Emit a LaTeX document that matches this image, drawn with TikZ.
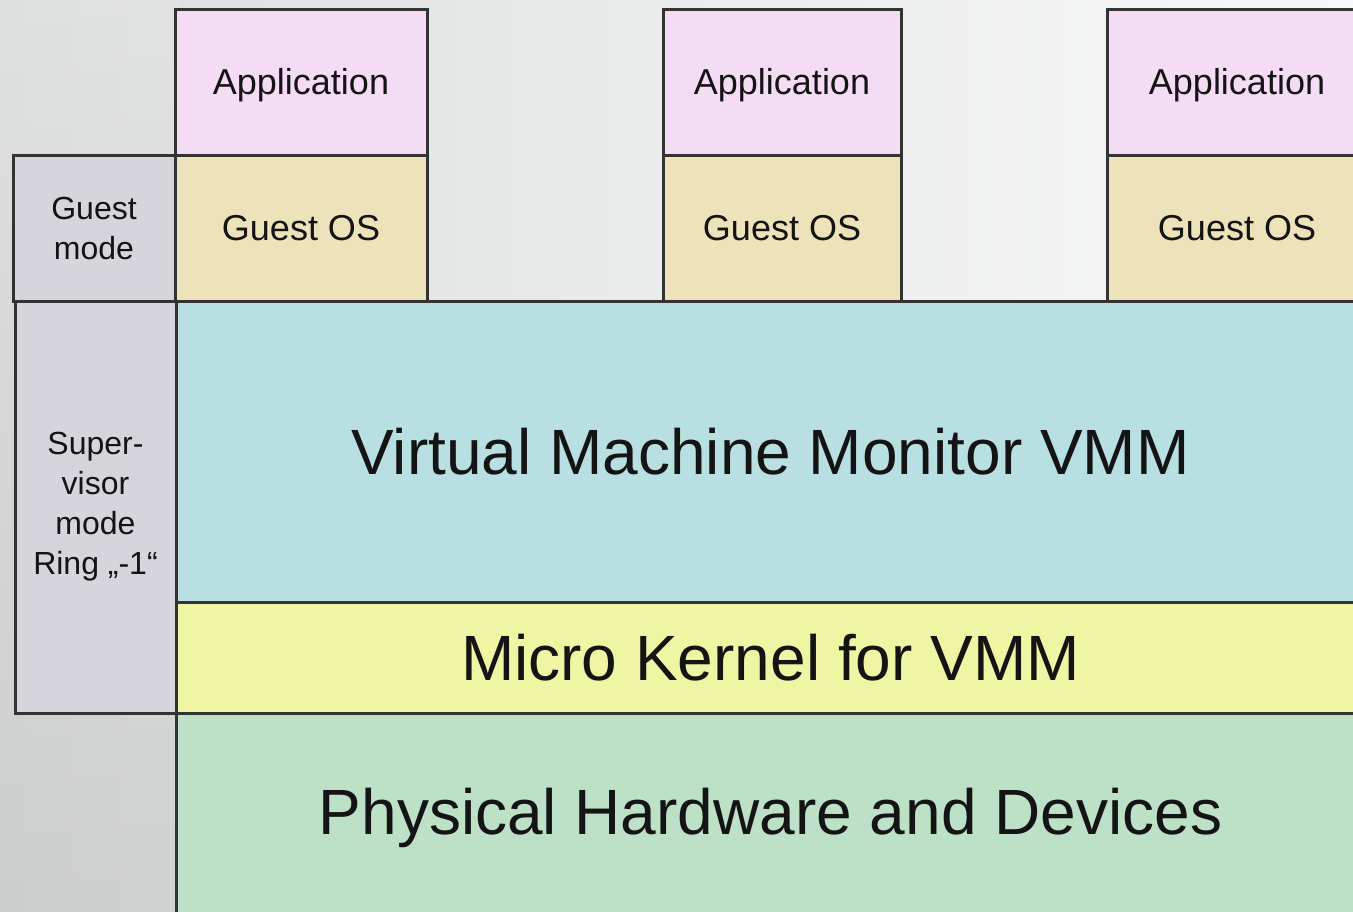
\documentclass[tikz,border=0pt]{standalone}
\usepackage{fontspec}
\setmainfont{Liberation Sans}
\definecolor{appc}{HTML}{F5DCF5}
\definecolor{osc}{HTML}{EDE2B9}
\definecolor{modec}{HTML}{D5D5DB}
\definecolor{vmmc}{HTML}{B8DFE2}
\definecolor{mkc}{HTML}{EEF5A3}
\definecolor{hwc}{HTML}{BDE1C6}
\definecolor{edge}{HTML}{333333}
\definecolor{bgl}{HTML}{DCDEDE}
\definecolor{bgr}{HTML}{F8F8F8}
\definecolor{txt}{HTML}{141414}
\begin{document}
\begin{tikzpicture}[x=0.5pt,y=-0.5pt,
  layer/.style={draw=edge, line width=1.5pt, rectangle, inner sep=0pt, text=txt, align=center},
  small/.style={layer, font=\fontsize{18}{22}\selectfont},
  side/.style={layer, font=\fontsize{16}{20}\selectfont},
  big/.style={layer, font=\fontsize{32}{38}\selectfont}]
\clip (0,0) rectangle (1353,911);
\useasboundingbox (0,0) rectangle (1353,911);
\shade[left color=bgl, right color=bgr] (0,0) rectangle (1353,911);
\shade[top color=white, bottom color=black, opacity=0.07] (0,0) rectangle (180,911);
% guest stacks
\node[small, fill=appc, minimum width=126pt, minimum height=73pt, text depth=1pt] (app1) at (301,82) {Application};
\node[small, fill=osc, minimum width=126pt, minimum height=73pt] (os1) at (301,228) {Guest OS};
\node[small, fill=appc, minimum width=119pt, minimum height=73pt, text depth=1pt] (app2) at (782,82) {Application};
\node[small, fill=osc, minimum width=119pt, minimum height=73pt] (os2) at (782,228) {Guest OS};
\node[small, fill=appc, minimum width=130pt, minimum height=73pt, text depth=1pt] (app3) at (1237,82) {Application};
\node[small, fill=osc, minimum width=130pt, minimum height=73pt] (os3) at (1237,228) {Guest OS};
% mode labels
\node[side, fill=modec, minimum width=81pt, minimum height=73pt] (guestmode) at (94,228) {Guest\\mode};
\node[side, fill=modec, minimum width=80.5pt, minimum height=206pt] (supmode) at (95.5,507) {Super-\\visor\\mode\\Ring „-1“};
% main layers
\node[big, fill=vmmc, minimum width=594.5pt, minimum height=150.5pt] (vmm) at (770.5,451.5) {Virtual Machine Monitor VMM};
\node[big, fill=mkc, minimum width=594.5pt, minimum height=55.5pt] (mk) at (770.5,657.5) {Micro Kernel for VMM};
\node[big, fill=hwc, minimum width=594.5pt, minimum height=105pt] (hw) at (770.5,818) {Physical Hardware and Devices};
\end{tikzpicture}
\end{document}
